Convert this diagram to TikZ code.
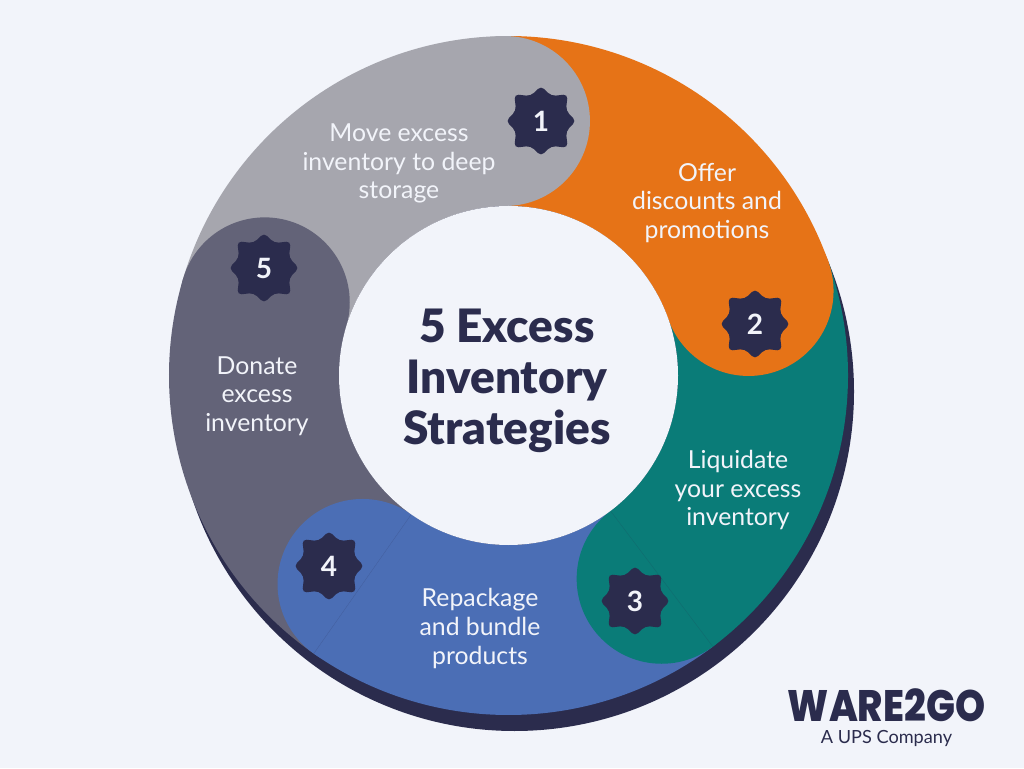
\documentclass[tikz,border=0pt]{standalone}
\usepackage{fontspec}
\usetikzlibrary{calc}
\setmainfont{Lato}
\newfontfamily\logofont[FakeStretch=0.87]{Poppins ExtraBold}
\newfontfamily\subfont{Lato}
\newfontfamily\titlefont{Lato Black}
\definecolor{bgc}{RGB}{242,244,250}
\definecolor{navy}{RGB}{43,44,77}
\definecolor{greyc}{RGB}{166,166,174}
\definecolor{orangec}{RGB}{230,115,23}
\definecolor{tealc}{RGB}{10,124,120}
\definecolor{bluec}{RGB}{75,110,181}
\definecolor{slatec}{RGB}{99,99,120}
\def\Rout{254.625pt}
\def\Rin{127.125pt}
\def\Rmid{190.875pt}
\def\Rcap{63.75pt}
\def\Ta{26.4pt}% axial tip
\def\Tb{28.4pt}% diagonal tip
\def\Tv{20.2pt}% valley
% annular sector ending in a round cap: colour, from angle, to angle
\newcommand{\sector}[3]{\fill[#1] ($(c)+(#2:\Rout)$) arc[start angle=#2,end angle=#3,radius=\Rout] -- ($(c)+(#3:\Rin)$) arc[start angle=#3,end angle=#2,radius=\Rin] -- cycle;}
\newcommand{\capdisc}[2]{\fill[#1] ($(c)+(#2:\Rmid)$) circle[radius=\Rcap];}
\newcommand{\badge}[3]{\fill[navy,shift={(#2)},rounded corners=3.4pt]
 (22.5:\Tv) -- (45:\Tb) -- (67.5:\Tv) -- (90:\Ta) -- (112.5:\Tv) -- (135:\Tb) -- (157.5:\Tv) -- (180:\Ta) -- (202.5:\Tv) -- (225:\Tb) -- (247.5:\Tv) -- (270:\Ta) -- (292.5:\Tv) -- (315:\Tb) -- (337.5:\Tv) -- (0:\Ta) -- cycle;
 \node[badgetext] (#1) at (#2) {#3};}
\tikzset{
 label/.style={text=bgc,align=center,font=\fontsize{18.6pt}{21.5pt}\selectfont,inner sep=0pt},
 badgetext/.style={text=bgc,font=\fontsize{21pt}{24pt}\selectfont\bfseries,inner sep=0pt},
 seam/.style={line width=0.25pt,draw=navy,opacity=0.22}
}
\begin{document}
\begin{tikzpicture}[x=0.75pt,y=0.75pt]
\useasboundingbox (0,0) rectangle (1024,768);
\fill[bgc] (0,0) rectangle (1024,768);
\coordinate (c) at (508.5,392.5);
\coordinate (sh) at (514.5,376.5);
\fill[navy] (sh) circle[radius=\Rout];
\sector{greyc}{163.3}{90.8}
\sector{orangec}{90.8}{19.4}
\sector{tealc}{19.4}{-53}
\sector{bluec}{-53}{-125}
\sector{slatec}{-125}{-196.7}
\capdisc{slatec}{163.3}
\capdisc{orangec}{19.4}
\capdisc{tealc}{-53}
\capdisc{bluec}{-125}
\capdisc{greyc}{90.8}
\draw[seam] ($(c)+(-53:\Rin)$) -- ($(c)+(-53:\Rout)$);
\draw[seam] ($(c)+(-125:\Rin)$) -- ($(c)+(-125:\Rout)$);
\fill[bgc] (c) circle[radius=\Rin];
\badge{b1}{541,647}{1}
\badge{b2}{755,444}{2}
\badge{b3}{635,167}{3}
\badge{b4}{329,202}{4}
\badge{b5}{264,500}{5}
\node[label] (t1) at (399,604.5) {Move excess\\inventory to deep\\storage};
\node[label] (t2) at (707,565) {Offer\\discounts and\\promotions};
\node[label] (t3) at (738,278) {Liquidate\\your excess\\inventory};
\node[label] (t4) at (480,139.5) {Repackage\\and bundle\\products};
\node[label] (t5) at (257,372) {Donate\\excess\\inventory};
\node[text=navy,align=center,inner sep=0pt,font=\fontsize{34.5pt}{38pt}\titlefont] (title) at (507,387) {5 Excess\\Inventory\\Strategies};
\node[text=navy,inner sep=0pt,font=\fontsize{33pt}{36pt}\logofont] (logo) at (886.5,63) {WARE2GO};
\node[text=navy,inner sep=0pt,font=\fontsize{13.6pt}{16pt}\subfont] (sub) at (886.5,29.5) {A UPS Company};
\end{tikzpicture}
\end{document}
